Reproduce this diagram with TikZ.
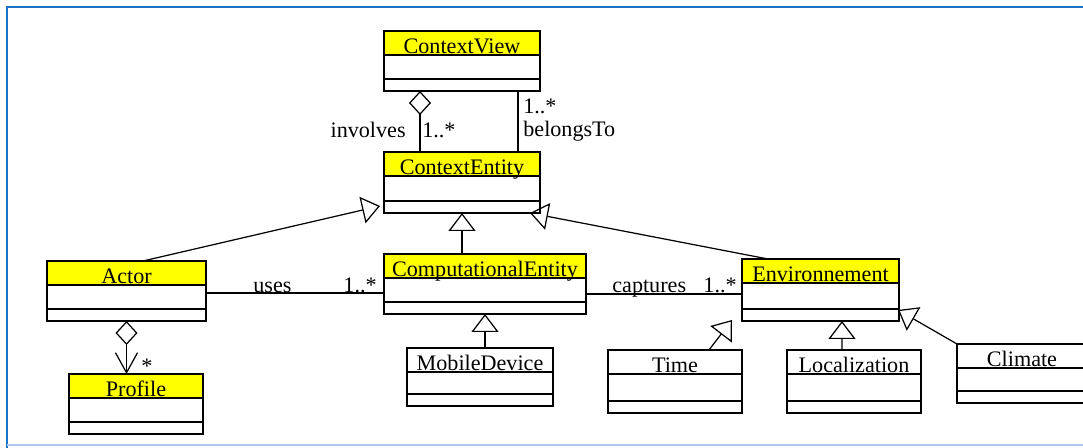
\documentclass[tikz,border=0pt]{standalone}
\usepackage{fontspec}
\setmainfont{Liberation Serif}
\usetikzlibrary{arrows.meta}
\definecolor{frameblue}{RGB}{30,115,200}
\definecolor{framelight}{RGB}{175,200,235}
\definecolor{hdr}{RGB}{255,255,0}

% name, x, y, width, height, title, header colour
\newcommand{\umlclass}[7]{%
  \fill[#7] (#2,#3) rectangle ++(#4,24);
  \node[classbox, minimum width=#4*0.02cm, minimum height=#5*0.02cm, anchor=north west] (#1) at (#2,#3) {};
  \draw[line width=0.8pt] (#2,#3+24) -- ++(#4,0);
  \draw[line width=0.8pt] (#2,#3+#5-12) -- ++(#4,0);
  \node[lbl, anchor=base] (#1-title) at (#2+#4/2,#3+23) {#6};
}

\begin{document}
\begin{tikzpicture}[x=0.02cm, y=-0.02cm,
  font=\fontsize{12.6}{15}\selectfont,
  classbox/.style={draw, line width=0.8pt, outer sep=0pt, inner sep=0pt},
  lbl/.style={inner sep=0pt},
  gen/.style={line width=0.7pt, -{Triangle[open, length=0.36cm, width=0.54cm]}},
  assoc/.style={line width=0.7pt},
  agg/.style={line width=0.7pt, {Diamond[open, length=0.48cm, width=0.44cm]}-},
  aggnav/.style={line width=0.7pt, {Diamond[open, length=0.48cm, width=0.44cm]}-{Straight Barb[length=0.4cm, width=0.44cm]}}]
\clip (0,0) rectangle (1083,448);
\useasboundingbox (0,0) rectangle (1083,448);
\draw[frameblue, line width=1.5pt] (7,448) -- (7,7) -- (1083,7);
\draw[framelight, line width=1pt] (7,445) -- (1083,445);

\node[lbl, anchor=base] (pstar) at (147,374) {*};

\umlclass{cv}{384}{31}{156}{60}{ContextView}{hdr}
\umlclass{ce}{384}{152}{156}{61}{ContextEntity}{hdr}
\umlclass{actor}{47}{261}{159}{60}{Actor}{hdr}
\umlclass{profile}{69}{374}{134}{60}{Profile}{hdr}
\umlclass{comp}{384}{254}{202}{60}{ComputationalEntity}{hdr}
\umlclass{env}{742}{259}{157}{62}{Environnement}{hdr}
\umlclass{mob}{407}{348}{146}{58}{MobileDevice}{white}
\umlclass{time}{608}{350}{134}{63}{Time}{white}
\umlclass{loc}{787}{350}{134}{63}{Localization}{white}
\umlclass{clim}{957}{344}{130}{59}{Climate}{white}

\draw[agg] ([xshift=0.72cm]cv.south west) -- ([xshift=0.72cm]ce.north west);
\draw[assoc] ([xshift=-0.44cm]cv.south east) -- ([xshift=-0.44cm]ce.north east);
\node[lbl, anchor=base east] (linv) at (406,138) {involves};
\node[lbl, anchor=base west] (linvm) at (422,138) {1..*};
\node[lbl, anchor=base west] (lbelm) at (523,114) {1..*};
\node[lbl, anchor=base west] (lbel) at (523,137) {belongsTo};

\draw[gen] ([xshift=1.92cm]actor.north west) -- ([shift={(-4,-7)}]ce.south west);
\draw[gen] (comp.north -| ce.south) -- (ce.south);
\draw[gen] ([xshift=0.52cm]env.north west) -- ([xshift=-0.2cm]ce.south east);
\draw[gen] (mob.north -| comp.south) -- (comp.south);
\draw[gen] ([xshift=2.02cm]time.north west) -- ([shift={(-10,-1)}]env.south west);
\draw[gen] ([xshift=1.1cm]loc.north west) -- ([xshift=2cm]env.south west);
\draw[gen] (clim.north west) -- ([shift={(-1,-11)}]env.south east);

\draw[aggnav] (actor.south) -- (actor.south |- profile.north);

\coordinate (usesL) at ([yshift=-0.04cm]actor.east);
\draw[assoc] (usesL) -- (usesL -| comp.west);
\node[lbl, anchor=base west] (luses) at (253,293) {uses};
\node[lbl, anchor=base east] (lusesm) at (377,293) {1..*};

\coordinate (capL) at ([yshift=-0.2cm]comp.east);
\draw[assoc] (capL) -- (capL -| env.west);
\node[lbl, anchor=base west] (lcap) at (612,293) {captures};
\node[lbl, anchor=base east] (lcapm) at (737,293) {1..*};
\end{tikzpicture}
\end{document}
